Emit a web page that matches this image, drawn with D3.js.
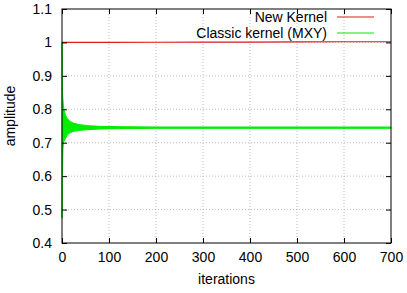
<!DOCTYPE html>
<html>
<head>
<meta charset="utf-8">
<script src="https://cdn.jsdelivr.net/npm/d3@7"></script>
<style>
  body { margin: 0; background: #fff; }
  text { font-family: "Liberation Sans", Arial, sans-serif; fill: #000; }
</style>
</head>
<body>
<svg id="chart" width="407" height="293"></svg>
<script>
// valeurs
const xTicks = [0, 100, 200, 300, 400, 500, 600, 700];
const yTicks = [0.4, 0.5, 0.6, 0.7, 0.8, 0.9, 1, 1.1];
const yTickLabels = ["0.4", "0.5", "0.6", "0.7", "0.8", "0.9", "1", "1.1"];

// nouveau noyau : quasi constant à 1
const newIters = [0, 100, 200, 300, 400, 500, 600, 700];
const newAmp = [1.0, 1.0, 1.0005, 1.001, 1.001, 1.0015, 1.002, 1.002];

// noyau classique : enveloppe de l'oscillation (haut / bas)
const classicIters = [0, 1, 2, 3, 5, 7, 10, 14, 18, 25, 38, 55, 80, 120, 200, 300, 400, 500, 600, 700];
const classicUpper = [1.0, 0.85, 0.83, 0.81, 0.795, 0.785, 0.775, 0.768, 0.763, 0.758, 0.754, 0.751, 0.749, 0.748, 0.747, 0.747, 0.747, 0.747, 0.747, 0.747];
const classicLower = [0.475, 0.60, 0.68, 0.70, 0.706, 0.712, 0.72, 0.727, 0.73, 0.734, 0.737, 0.739, 0.741, 0.742, 0.743, 0.743, 0.743, 0.743, 0.743, 0.743];

const seriesNames = ["New Kernel", "Classic kernel (MXY)"];
const colors = ["#e41a1c", "#00ee00"];

const margin = { left: 62, right: 16, top: 9, bottom: 50 };
const width = 407, height = 293;
const fontSize = '14px';

const svg = d3.select('#chart');

const x = d3.scaleLinear().domain([0, 700]).range([margin.left, width - margin.right]);
const y = d3.scaleLinear().domain([0.4, 1.1]).range([height - margin.bottom, margin.top]);

// grille pointillée
const grid = svg.append('g');
grid.selectAll('.gx')
    .data(xTicks.slice(1, -1))
    .enter().append('line')
    .attr('x1', d => x(d)).attr('x2', d => x(d))
    .attr('y1', y(0.4)).attr('y2', y(1.1))
    .attr('stroke', '#a0a0a0').attr('stroke-width', 0.7)
    .attr('stroke-dasharray', '1,2');
grid.selectAll('.gy')
    .data(yTicks.slice(1, -1))
    .enter().append('line')
    .attr('x1', x(0)).attr('x2', x(700))
    .attr('y1', d => y(d)).attr('y2', d => y(d))
    .attr('stroke', '#a0a0a0').attr('stroke-width', 0.7)
    .attr('stroke-dasharray', '1,2');

// courbe classique (bande d'oscillation)
const classic = classicIters.map((it, i) => ({ it, hi: classicUpper[i], lo: classicLower[i] }));
svg.append('path')
    .datum(classic)
    .attr('fill', colors[1])
    .attr('stroke', colors[1])
    .attr('stroke-width', 1)
    .attr('d', d3.area().x(d => x(d.it)).y0(d => y(d.lo)).y1(d => y(d.hi)));

// courbe nouveau noyau
svg.append('path')
    .datum(newIters.map((it, i) => ({ it, v: newAmp[i] })))
    .attr('fill', 'none')
    .attr('stroke', colors[0])
    .attr('stroke-width', 1.2)
    .attr('d', d3.line().x(d => x(d.it)).y(d => y(d.v)));

// axes (ticks vers l'intérieur, en miroir)
const tickLen = 5;
const axisB = svg.append('g').attr('transform', `translate(0,${y(0.4)})`)
    .call(d3.axisBottom(x).tickValues(xTicks).tickSize(-tickLen).tickPadding(9));
const axisT = svg.append('g').attr('transform', `translate(0,${y(1.1)})`)
    .call(d3.axisTop(x).tickValues(xTicks).tickSize(-tickLen).tickFormat(''));
const axisL = svg.append('g').attr('transform', `translate(${x(0)},0)`)
    .call(d3.axisLeft(y).tickValues(yTicks).tickSize(-tickLen).tickPadding(10)
        .tickFormat((d, i) => yTickLabels[i]));
const axisR = svg.append('g').attr('transform', `translate(${x(700)},0)`)
    .call(d3.axisRight(y).tickValues(yTicks).tickSize(-tickLen).tickFormat(''));

[axisB, axisT, axisL, axisR].forEach(a => {
    a.select('.domain').remove();
    a.selectAll('line').attr('stroke', '#000');
    a.selectAll('text').style('font-size', fontSize).style('font-family', '"Liberation Sans", Arial, sans-serif');
});

// cadre
svg.append('rect')
    .attr('x', x(0)).attr('y', y(1.1))
    .attr('width', x(700) - x(0)).attr('height', y(0.4) - y(1.1))
    .attr('fill', 'none').attr('stroke', '#000').attr('stroke-width', 1);

// légende
const legend = svg.append('g');
seriesNames.forEach((name, i) => {
    const ly = 17 + i * 16;
    legend.append('text')
        .attr('x', 327).attr('y', ly + 5)
        .attr('text-anchor', 'end')
        .style('font-size', fontSize)
        .text(name);
    legend.append('line')
        .attr('x1', 337).attr('x2', 374)
        .attr('y1', ly).attr('y2', ly)
        .attr('stroke', colors[i]).attr('stroke-width', 1.2);
});

// titres des axes
svg.append('text')
    .attr('x', (x(0) + x(700)) / 2).attr('y', 284)
    .attr('text-anchor', 'middle')
    .style('font-size', fontSize)
    .text('iterations');
svg.append('text')
    .attr('transform', `translate(15,${(y(0.4) + y(1.1)) / 2 - 10}) rotate(-90)`)
    .attr('text-anchor', 'middle')
    .style('font-size', fontSize)
    .text('amplitude');
</script>
</body>
</html>
